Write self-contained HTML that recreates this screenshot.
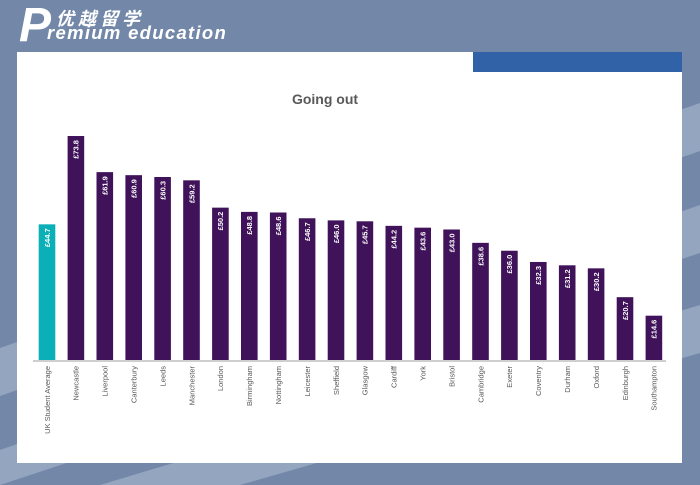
<!DOCTYPE html>
<html><head><meta charset="utf-8"><style>
html,body{margin:0;padding:0}
body{width:700px;height:485px;overflow:hidden;background:#7388a8;position:relative;font-family:"Liberation Sans","Noto Sans CJK SC",sans-serif}
</style></head><body>
<svg width="700" height="485" style="position:absolute;left:0;top:0">
<polygon points="0,348 700,103 700,151 0,396" fill="#94a5bf"/>
<polygon points="0,450 700,205 700,253 0,485" fill="#94a5bf"/>
<polygon points="100,485 700,305 700,353 240,485" fill="#94a5bf"/>
</svg>
<div style="position:absolute;left:17px;top:52px;width:665px;height:411px;background:#fff"></div>
<div style="position:absolute;left:473px;top:52px;width:209px;height:20px;background:#3162a8"></div>
<div style="position:absolute;left:19px;top:4px;color:#fff;font-style:italic;font-weight:bold;font-size:48px;line-height:44px">P</div>
<div style="position:absolute;left:56px;top:9px;color:#fff;font-style:italic;font-weight:bold;font-size:18px;letter-spacing:4px;line-height:20px">优越留学</div>
<div style="position:absolute;left:47px;top:24px;color:#fff;font-style:italic;font-weight:bold;font-size:18.5px;letter-spacing:1.3px;line-height:18px">remium education</div>
<svg width="700" height="485" style="position:absolute;left:0;top:0" font-family="Liberation Sans, sans-serif">
<text x="325" y="104" text-anchor="middle" font-size="14" font-weight="bold" fill="#595959">Going out</text>
<line x1="33" y1="361" x2="666" y2="361" stroke="#bfbfbf" stroke-width="1.5"/>
<g id="bars"></g>
</svg>
<script>
var d=[["UK Student Average",44.7],["Newcastle",73.8],["Liverpool",61.9],["Canterbury",60.9],["Leeds",60.3],["Manchester",59.2],["London",50.2],["Birmingham",48.8],["Nottingham",48.6],["Leicester",46.7],["Sheffield",46.0],["Glasgow",45.7],["Cardiff",44.2],["York",43.6],["Bristol",43.0],["Cambridge",38.6],["Exeter",36.0],["Coventry",32.3],["Durham",31.2],["Oxford",30.2],["Edinburgh",20.7],["Southampton",14.6]];
var s="";
d.forEach(function(e,i){var x=38.7+i*28.9,w=16.6,h=e[1]*3.035,y=360-h,cx=x+w/2;
s+='<rect x="'+x+'" y="'+y+'" width="'+w+'" height="'+h+'" fill="'+(i?'#3f1259':'#0aafb7')+'"/>';
s+='<text transform="translate('+(cx+2.8)+','+(y+4)+') rotate(-90)" text-anchor="end" font-size="7.5" font-weight="bold" fill="#fff">£'+e[1].toFixed(1)+'</text>';
s+='<text transform="translate('+(cx+2.8)+',366) rotate(-90)" text-anchor="end" font-size="7.5" fill="#595959">'+e[0]+'</text>';});
document.getElementById("bars").innerHTML=s;
</script>
</body></html>
